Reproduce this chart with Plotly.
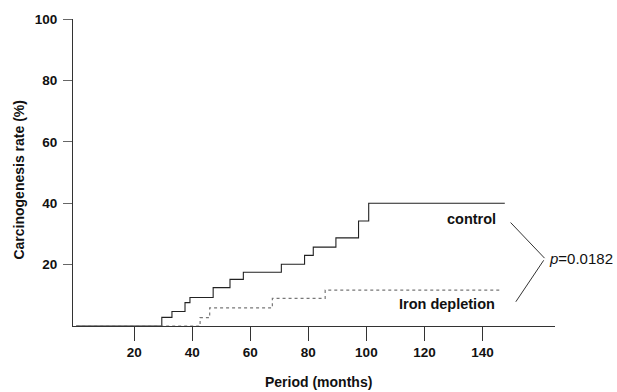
import plotly.graph_objects as go

# Data
control_months = [0, 29.5, 33.0, 37.5, 39.2, 47.2, 53.0, 57.6, 70.7, 78.7, 81.7, 89.5, 97.3, 100.8, 147.7]
control_rate = [0, 2.8, 4.7, 7.6, 9.3, 12.5, 15.2, 17.5, 20.1, 23.0, 25.7, 28.7, 34.2, 40.0, 40.0]

iron_months = [0, 42.7, 46.0, 67.6, 85.8, 146.0]
iron_rate = [0, 2.7, 5.9, 9.0, 11.7, 11.7]

x_ticks = [20, 40, 60, 80, 100, 120, 140]
y_ticks = [20, 40, 60, 80, 100]

FONT = "Liberation Sans"

fig = go.Figure()
fig.add_trace(go.Scatter(x=control_months, y=control_rate, mode="lines",
                         line=dict(shape="hv", color="#222222", width=1.1),
                         name="control", showlegend=False))
fig.add_trace(go.Scatter(x=iron_months, y=iron_rate, mode="lines",
                         line=dict(shape="hv", color="#777777", width=1.2, dash="dot"),
                         name="Iron depletion", showlegend=False))

fig.update_layout(
    width=617, height=392,
    margin=dict(l=73, r=62, t=16, b=66),
    paper_bgcolor="white", plot_bgcolor="white",
    font=dict(family=FONT, color="#111111"),
    xaxis=dict(range=[-1.1, 165], tickvals=x_ticks, ticks="outside", ticklen=14,
               tickcolor="#333333", showline=True, linecolor="#333333", linewidth=1,
               showgrid=False, zeroline=False,
               tickfont=dict(family=FONT, size=13.5, color="#111111", weight="bold")),
    yaxis=dict(range=[0, 100], tickvals=y_ticks, ticks="outside", ticklen=9,
               tickcolor="#666666", showline=True, linecolor="#333333", linewidth=1,
               showgrid=False, zeroline=False, ticklabelstandoff=3,
               tickfont=dict(family=FONT, size=13.5, color="#111111", weight="bold")),
)

fig.add_annotation(text="<b>Period (months)</b>", xref="paper", yref="paper",
                   x=0.51, y=-0.182, xanchor="center", yanchor="middle", showarrow=False,
                   font=dict(family=FONT, size=14, color="#111111"))
fig.add_annotation(text="<b>Carcinogenesis rate (%)</b>", xref="paper", yref="paper",
                   x=-0.112, y=0.477, xanchor="center", yanchor="middle", textangle=-90,
                   showarrow=False, font=dict(family=FONT, size=14, color="#111111"))

fig.add_annotation(text="<b>control</b>", x=145.3, y=34.9, xanchor="right", yanchor="middle",
                   showarrow=False, font=dict(family=FONT, size=14.5, color="#111111"))
fig.add_annotation(text="<b>Iron depletion</b>", x=145.0, y=7.2, xanchor="right", yanchor="middle",
                   showarrow=False, font=dict(family=FONT, size=14.5, color="#111111"))
fig.add_annotation(text="<i>p</i>=0.0182", x=162.3, y=22.0, xanchor="left", yanchor="middle",
                   showarrow=False, font=dict(family=FONT, size=15, color="#111111"))

fig.add_shape(type="line", x0=149.7, y0=33.7, x1=161.4, y1=22.1,
              line=dict(color="#333333", width=1))
fig.add_shape(type="line", x0=161.1, y0=21.4, x1=151.5, y1=7.9,
              line=dict(color="#333333", width=1))

fig.write_html("out.html", config={"displayModeBar": False},
               post_script="document.body.style.margin='0px';document.body.style.overflow='hidden';")
